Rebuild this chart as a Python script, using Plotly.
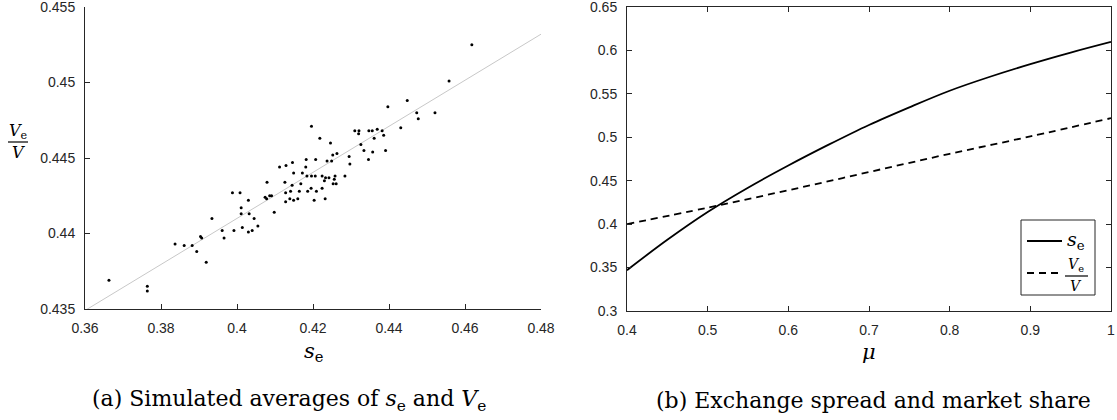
import plotly.graph_objects as go

# ---------------- Panel (a): simulated averages ----------------
se_sim = [0.3663, 0.3764, 0.3764, 0.3837, 0.3861, 0.3882, 0.3894, 0.3904, 0.3907, 0.3919,
          0.3934, 0.3961, 0.3966, 0.3988, 0.3992, 0.4008, 0.4011, 0.4011, 0.4014, 0.4030,
          0.4032, 0.4030, 0.4040, 0.4045, 0.4055, 0.4079, 0.4074, 0.4078, 0.4086, 0.4091,
          0.4098, 0.4112, 0.4129, 0.4146, 0.4149, 0.4126, 0.4145, 0.4128, 0.4141, 0.4164,
          0.4128, 0.4139, 0.4149, 0.4160, 0.4196, 0.4218, 0.4246, 0.4310, 0.4321, 0.4326,
          0.4334, 0.4252, 0.4263, 0.4295, 0.4237, 0.4249, 0.4297, 0.4182, 0.4207, 0.4181,
          0.4172, 0.4184, 0.4196, 0.4206, 0.4224, 0.4233, 0.4242, 0.4230, 0.4258, 0.4256,
          0.4284, 0.4168, 0.4195, 0.4224, 0.4253, 0.4261, 0.4186, 0.4209, 0.4203, 0.4232,
          0.4397, 0.4448, 0.4473, 0.4477, 0.4431, 0.4320, 0.4347, 0.4356, 0.4369, 0.4382,
          0.4386, 0.4361, 0.4357, 0.4391, 0.4346, 0.4618, 0.4558, 0.4521]
ve_sim = [0.4369, 0.4365, 0.4362, 0.4393, 0.4392, 0.4392, 0.4388, 0.4398, 0.4397, 0.4381,
          0.4410, 0.4402, 0.4397, 0.4427, 0.4402, 0.4427, 0.4417, 0.4413, 0.4404, 0.4422,
          0.4413, 0.4401, 0.4402, 0.4410, 0.4405, 0.4434, 0.4424, 0.4423, 0.4425, 0.4425,
          0.4414, 0.4444, 0.4445, 0.4447, 0.4440, 0.4434, 0.4432, 0.4427, 0.4428, 0.4428,
          0.4421, 0.4423, 0.4422, 0.4423, 0.4471, 0.4463, 0.4460, 0.4468, 0.4468, 0.4459,
          0.4455, 0.4452, 0.4453, 0.4451, 0.4448, 0.4448, 0.4446, 0.4449, 0.4449, 0.4444,
          0.4440, 0.4438, 0.4438, 0.4438, 0.4438, 0.4437, 0.4437, 0.4435, 0.4438, 0.4436,
          0.4438, 0.4433, 0.4430, 0.4430, 0.4433, 0.4433, 0.4428, 0.4428, 0.4422, 0.4423,
          0.4484, 0.4488, 0.4480, 0.4476, 0.4470, 0.4466, 0.4468, 0.4468, 0.4469, 0.4468,
          0.4465, 0.4463, 0.4454, 0.4455, 0.4449, 0.4525, 0.4501, 0.4480]
fit_se = [0.36, 0.48]
fit_ve = [0.4349, 0.4532]

a_xticks = [0.36, 0.38, 0.40, 0.42, 0.44, 0.46, 0.48]
a_xlabels = ["0.36", "0.38", "0.4", "0.42", "0.44", "0.46", "0.48"]
a_yticks = [0.435, 0.440, 0.445, 0.450, 0.455]
a_ylabels = ["0.435", "0.44", "0.445", "0.45", "0.455"]

# ---------------- Panel (b): spread and market share ----------------
mu_se = [0.40, 0.45, 0.50, 0.55, 0.60, 0.65, 0.70, 0.75, 0.80, 0.85, 0.90, 0.95, 1.00]
se_curve = [0.347, 0.382, 0.414, 0.442, 0.4675, 0.4915, 0.5142, 0.5345, 0.5536, 0.5697,
            0.5842, 0.5975, 0.6098]
mu_v = [0.4, 0.5, 0.6, 0.7, 0.8, 0.9, 1.0]
ve_curve = [0.400, 0.419, 0.439, 0.460, 0.481, 0.501, 0.522]

b_xticks = [0.4, 0.5, 0.6, 0.7, 0.8, 0.9, 1.0]
b_xlabels = ["0.4", "0.5", "0.6", "0.7", "0.8", "0.9", "1"]
b_yticks = [0.30, 0.35, 0.40, 0.45, 0.50, 0.55, 0.60, 0.65]
b_ylabels = ["0.3", "0.35", "0.4", "0.45", "0.5", "0.55", "0.6", "0.65"]

W, H = 1117, 420
AX = "#262626"
TICKFONT = dict(family="Liberation Sans, Arial, sans-serif", size=14, color=AX)
SERIF = "DejaVu Serif, Liberation Serif, serif"


def px(x):
    return x / W


def py(y):
    return 1 - y / H


fig = go.Figure()
fig.add_trace(go.Scatter(x=fit_se, y=fit_ve, mode="lines",
                         line=dict(color="#c8c8c8", width=1), xaxis="x", yaxis="y",
                         showlegend=False))
fig.add_trace(go.Scatter(x=se_sim, y=ve_sim, mode="markers",
                         marker=dict(color="black", size=3), xaxis="x", yaxis="y",
                         showlegend=False))
fig.add_trace(go.Scatter(x=mu_se, y=se_curve, mode="lines", line_shape="spline",
                         line=dict(color="black", width=1.8), xaxis="x2", yaxis="y2",
                         showlegend=False))
fig.add_trace(go.Scatter(x=mu_v, y=ve_curve, mode="lines", line_shape="spline",
                         line=dict(color="black", width=1.8, dash="7px,5px"),
                         xaxis="x2", yaxis="y2", showlegend=False))

common = dict(showgrid=False, zeroline=False, showline=True, linecolor=AX, linewidth=1,
              ticks="inside", ticklen=5, tickcolor=AX, tickwidth=1, tickfont=TICKFONT,
              ticklabelstandoff=6, automargin=False, ticklabeloverflow="allow")

fig.update_layout(
    template="none",
    width=W, height=H, autosize=False,
    margin=dict(l=0, r=0, t=0, b=0, pad=0),
    paper_bgcolor="white", plot_bgcolor="white",
    showlegend=False,
    xaxis=dict(domain=[px(85), px(541)], range=[0.36, 0.48], tickvals=a_xticks,
               ticktext=a_xlabels, anchor="y", **common),
    yaxis=dict(domain=[py(309), py(7)], range=[0.435, 0.455], tickvals=a_yticks,
               ticktext=a_ylabels, anchor="x", **common),
    xaxis2=dict(domain=[px(627), px(1111)], range=[0.4, 1.0], tickvals=b_xticks,
                ticktext=b_xlabels, anchor="y2", mirror="ticks", **common),
    yaxis2=dict(domain=[py(311), py(7)], range=[0.3, 0.65], tickvals=b_yticks,
                ticktext=b_ylabels, anchor="x2", mirror="ticks", **common),
)

ann = []
shapes = []


def text(x, y, s, size, xanchor="center"):
    ann.append(dict(x=px(x), y=py(y), xref="paper", yref="paper", text=s,
                    showarrow=False, xanchor=xanchor, yanchor="middle",
                    font=dict(family=SERIF, size=size, color="black")))


def hline(x0, x1, y, dash=None, width=1.0, color="black"):
    shapes.append(dict(type="line", xref="paper", yref="paper", x0=px(x0), x1=px(x1),
                       y0=py(y), y1=py(y), line=dict(color=color, width=width,
                                                     dash=dash or "solid")))


# axis titles
text(313, 352, "<i>s</i><sub>e</sub>", 21)
text(869, 352, "<i>μ</i>", 21)
# left y label (fraction)
text(18, 131, "<i>V</i><sub>e</sub>", 16)
hline(8, 28, 142, width=1.2)
text(18, 152, "<i>V</i>", 16)
# captions
text(289, 400, "(a) Simulated averages of <i>s</i><sub>e</sub> and <i>V</i><sub>e</sub>", 22)
text(873, 400, "(b) Exchange spread and market share", 22)

# legend box (panel b)
shapes.append(dict(type="rect", xref="paper", yref="paper", x0=px(1021), x1=px(1095),
                   y0=py(295), y1=py(220), line=dict(color=AX, width=1),
                   fillcolor="white", layer="above"))
hline(1027, 1062, 241, width=1.8)
hline(1027, 1062, 273, dash="7px,5px", width=1.8)
text(1076, 240, "<i>s</i><sub>e</sub>", 19)
text(1076, 265, "<i>V</i><sub>e</sub>", 14)
hline(1065, 1088, 276, width=1.2)
text(1076, 286, "<i>V</i>", 14)

fig.update_layout(annotations=ann, shapes=shapes)
fig.write_html("out.html", config={"displayModeBar": False},
               post_script="document.body.style.margin='0';")
